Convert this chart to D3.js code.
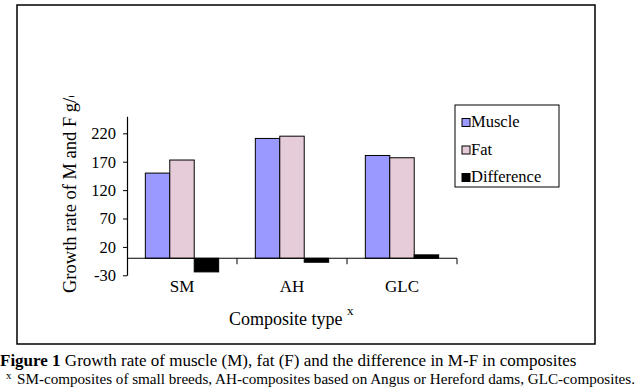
<!DOCTYPE html>
<html>
<head>
<meta charset="utf-8">
<script src="https://cdn.jsdelivr.net/npm/d3@7"></script>
<style>
  body { margin: 0; background: #fff; }
  svg { display: block; font-family: "Liberation Serif", "Times New Roman", serif; }
</style>
</head>
<body>
<svg id="chart" width="641" height="392"></svg>
<script>
// data
const categories = ["SM", "AH", "GLC"];
const series = ["Muscle", "Fat", "Difference"];
const muscle = [150, 211, 181];
const fat = [173, 215, 177];
const difference = [-24, -7, 6];
const yTicks = [-30, 20, 70, 120, 170, 220];
const colors = ["#9999ff", "#e6ccd9", "#000000"];

const svg = d3.select("#chart");

// outer frame
svg.append("rect")
    .attr("x", 17).attr("y", 5)
    .attr("width", 578).attr("height", 339)
    .attr("fill", "none").attr("stroke", "#000").attr("stroke-width", 1.5);

const y = d3.scaleLinear().domain([-30, 250]).range([275.3, 116.3]);
const x0 = d3.scaleBand().domain(categories).range([127, 457]);
const x1 = d3.scaleBand().domain(series).range([0, x0.bandwidth()])
    .paddingInner(0).paddingOuter(0.75);

const rows = categories.map((c, i) => ({
    cat: c,
    vals: [muscle[i], fat[i], difference[i]]
}));

// bars
const groups = svg.append("g").selectAll("g").data(rows).join("g")
    .attr("transform", d => `translate(${x0(d.cat)},0)`);

groups.selectAll("rect")
    .data(d => d.vals.map((v, j) => ({ s: series[j], v: v, j: j })))
    .join("rect")
    .attr("x", d => x1(d.s))
    .attr("width", x1.bandwidth())
    .attr("y", d => y(Math.max(0, d.v)))
    .attr("height", d => Math.abs(y(d.v) - y(0)))
    .attr("fill", d => colors[d.j])
    .attr("stroke", "#000")
    .attr("stroke-width", 1);

// y axis
const yAxis = svg.append("g")
    .attr("transform", "translate(127,0)")
    .call(d3.axisLeft(y).tickValues(yTicks).tickFormat(d => String(d))
        .tickSizeInner(4).tickSizeOuter(0).tickPadding(7));
yAxis.select(".domain").attr("stroke-width", 1.2);
yAxis.selectAll("text")
    .attr("font-family", "Liberation Serif")
    .attr("font-size", 16.5)
    .attr("fill", "#000");

// x axis along zero
const xAxis = svg.append("g").attr("transform", `translate(0,${y(0)})`);
xAxis.append("line")
    .attr("x1", 127).attr("x2", 457)
    .attr("stroke", "#000").attr("stroke-width", 1.2);
xAxis.selectAll("line.tick")
    .data(categories.map(c => x0(c) + x0.bandwidth()))
    .join("line").attr("class", "tick")
    .attr("x1", d => d).attr("x2", d => d)
    .attr("y1", 0).attr("y2", 6)
    .attr("stroke", "#000").attr("stroke-width", 1);
svg.append("g").selectAll("text").data(categories).join("text")
    .attr("x", d => x0(d) + x0.bandwidth() / 2)
    .attr("y", 291.7)
    .attr("text-anchor", "middle")
    .attr("font-size", 17)
    .text(d => d);

// axis titles (y title is cut off at the top, as in the original)
svg.append("defs").append("clipPath").attr("id", "ylabClip")
    .append("rect").attr("x", 0).attr("y", 96).attr("width", 120).attr("height", 250);
svg.append("g")
    .attr("clip-path", "url(#ylabClip)")
    .append("text")
    .attr("transform", "translate(76,293) rotate(-90)")
    .attr("font-size", 18.5)
    .text("Growth rate of M and F g/day");

svg.append("text")
    .attr("x", 229).attr("y", 325)
    .attr("font-size", 18)
    .text("Composite type");
svg.append("text")
    .attr("x", 347).attr("y", 315)
    .attr("font-size", 13)
    .text("x");

// legend
const legend = svg.append("g");
legend.append("rect")
    .attr("x", 455).attr("y", 105)
    .attr("width", 104).attr("height", 82)
    .attr("fill", "#fff").attr("stroke", "#000").attr("stroke-width", 1);
const li = legend.selectAll("g.item").data(series).join("g").attr("class", "item")
    .attr("transform", (d, i) => `translate(0,${i * 27.5})`);
li.append("rect")
    .attr("x", 462).attr("y", 118.5)
    .attr("width", 8).attr("height", 8)
    .attr("fill", (d, i) => colors[i])
    .attr("stroke", "#000").attr("stroke-width", 1);
li.append("text")
    .attr("x", 471).attr("y", 127)
    .attr("font-size", 16.5)
    .text(d => d);

// caption
const cap = svg.append("text").attr("x", 0).attr("y", 366).attr("font-size", 17);
cap.append("tspan").attr("font-weight", "bold").text("Figure 1");
cap.append("tspan").text(" Growth rate of muscle (M), fat (F) and the difference in M-F in composites");

svg.append("text").attr("x", 6).attr("y", 379)
    .attr("font-size", 11).text("x");
svg.append("text").attr("x", 17).attr("y", 384)
    .attr("font-size", 15.2)
    .attr("textLength", 618)
    .attr("lengthAdjust", "spacingAndGlyphs")
    .text("SM-composites of small breeds, AH-composites based on Angus or Hereford dams, GLC-composites.");
</script>
</body>
</html>
